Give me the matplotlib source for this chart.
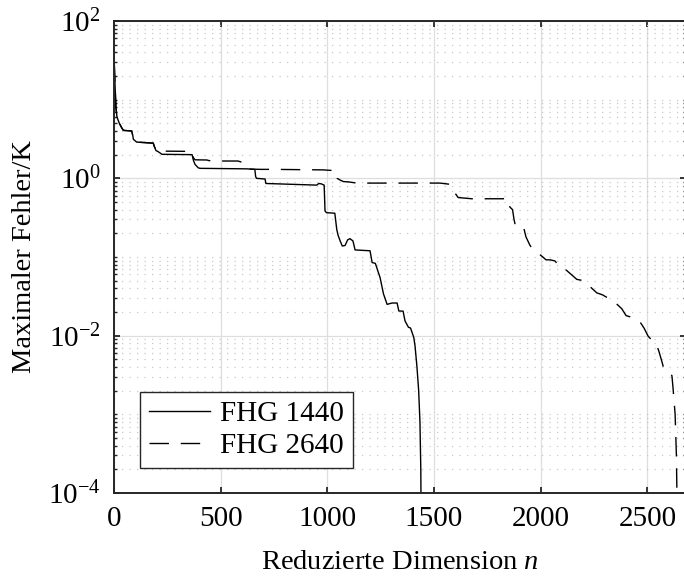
import matplotlib
matplotlib.use("Agg")
import matplotlib.pyplot as plt
from matplotlib.ticker import FixedLocator, NullFormatter, FixedFormatter

plt.rcParams['font.family'] = ['Liberation Serif', 'DejaVu Serif']
plt.rcParams['mathtext.fontset'] = 'custom'
plt.rcParams['mathtext.rm'] = 'Liberation Serif'
plt.rcParams['mathtext.it'] = 'Liberation Serif:italic'

# ---- data ----
n_1440 = [1, 5, 9, 14, 25, 36, 44, 83, 88, 91, 106, 184, 190, 197, 205, 225, 366, 372,
          380, 395, 403, 622, 660, 664, 668, 708, 712, 950, 960, 972, 985, 989, 996,
          1035, 1044, 1050, 1060, 1070, 1083, 1095, 1106, 1120, 1130, 1153, 1200, 1210,
          1225, 1237, 1247, 1263, 1270, 1280, 1303, 1327, 1335, 1355, 1364, 1380, 1390,
          1405, 1411, 1420, 1428, 1434, 1438, 1441]
err_1440 = [30, 15, 8, 6, 5, 4.4, 4.07, 4.0, 3.5, 3.13, 2.89, 2.8, 2.5, 2.25, 2.2, 2.02,
            2.0, 1.7, 1.5, 1.36, 1.34, 1.32, 1.3, 1.05, 1.0, 0.98, 0.86, 0.82, 0.86, 0.85,
            0.82, 0.385, 0.366, 0.36, 0.225, 0.19, 0.16, 0.138, 0.14, 0.165, 0.171, 0.16,
            0.123, 0.122, 0.12, 0.085, 0.083, 0.066, 0.055, 0.034, 0.03, 0.025, 0.026,
            0.026, 0.0206, 0.0205, 0.0154, 0.0128, 0.0125, 0.0095, 0.0074, 0.004, 0.002,
            0.0008, 0.0002, 1e-5]

n_2640 = [1, 5, 9, 14, 25, 36, 44, 83, 88, 91, 106, 184, 190, 197, 205, 365, 372, 380,
          436, 445, 497, 581, 600, 615, 622, 692, 747, 981, 1000, 1040, 1046, 1060, 1075,
          1100, 1138, 1528, 1575, 1590, 1613, 1677, 1763, 1825, 1840, 1856, 1868, 1875,
          1880, 1918, 1931, 1950, 1965, 2010, 2025, 2045, 2067, 2091, 2120, 2146, 2169,
          2200, 2227, 2263, 2290, 2325, 2358, 2380, 2400, 2442, 2465, 2485, 2503, 2525,
          2544, 2555, 2565, 2575, 2590, 2600, 2615, 2620, 2630, 2636, 2640]
err_2640 = [30, 15, 8, 6, 5, 4.4, 4.07, 4.0, 3.5, 3.13, 2.89, 2.8, 2.5, 2.3, 2.22, 2.2,
            1.83, 1.72, 1.71, 1.68, 1.66, 1.66, 1.6, 1.4, 1.31, 1.30, 1.30, 1.28, 1.27,
            1.25, 1.0, 0.95, 0.91, 0.90, 0.87, 0.87, 0.84, 0.70, 0.57, 0.55, 0.55, 0.55,
            0.57, 0.43, 0.40, 0.30, 0.26, 0.25, 0.18, 0.14, 0.125, 0.10, 0.092, 0.092,
            0.089, 0.074, 0.068, 0.059, 0.052, 0.05, 0.043, 0.035, 0.033, 0.029, 0.025,
            0.022, 0.018, 0.0166, 0.015, 0.0124, 0.0099, 0.0085, 0.0076, 0.0062, 0.005,
            0.0040, 0.0038, 0.0034, 0.0031, 0.0022, 0.001, 0.0003, 0.00005]

labels = ['FHG 1440', 'FHG 2640']
x_ticks = [0, 500, 1000, 1500, 2000, 2500]
y_major = [1e-4, 1e-2, 1e0, 1e2]
y_major_labels = ['$10^{-4}$', '$10^{-2}$', '$10^{0}$', '$10^{2}$']
x_limits = (0, 2681)
y_limits = (1e-4, 1e2)

# ---- figure ----
fig = plt.figure(figsize=(6.84, 5.76), dpi=100)
ax = fig.add_axes([114 / 684, 1 - 493 / 576, 572 / 684, 472 / 576])

ax.plot(n_1440, err_1440, color='black', lw=1.0, label=labels[0])
ax.plot(n_2640, err_2640, color='black', lw=1.0, dashes=(14, 8.5), label=labels[1])

ax.set_yscale('log')
ax.set_xlim(*x_limits)
ax.set_ylim(*y_limits)

ax.xaxis.set_major_locator(FixedLocator(x_ticks))
ax.yaxis.set_major_locator(FixedLocator(y_major))
ax.yaxis.set_major_formatter(FixedFormatter(y_major_labels))
minor = []
for k in range(-4, 2):
    for m in range(1, 10):
        v = m * 10.0 ** k
        if any(abs(v - t) / t < 1e-9 for t in y_major):
            continue
        minor.append(v)
ax.yaxis.set_minor_locator(FixedLocator(minor))
ax.yaxis.set_minor_formatter(NullFormatter())

ax.set_axisbelow(True)
ax.grid(True, which='major', axis='both', color='#dedede', lw=0.9, ls='-')
ax.grid(True, which='minor', axis='y', color='#c8c8c8', lw=0.9, ls=(0, (1, 5)))

ax.tick_params(which='both', direction='in', top=True, right=True, labelsize=21,
               colors='#262626', labelcolor='black')
ax.tick_params(which='major', length=4.5, width=1.3, pad=9.5)
ax.tick_params(which='minor', length=2.5, width=1.0)
for s in ax.spines.values():
    s.set_linewidth(1.4)
    s.set_color('#262626')

ax.set_xlabel('Reduzierte Dimension $n$', fontsize=20.5, labelpad=13)
ax.set_ylabel('Maximaler Fehler/K', fontsize=20.5, labelpad=8)

leg = ax.legend(loc='lower left', bbox_to_anchor=(0.0455, 0.053), fontsize=21,
                frameon=True, fancybox=False, shadow=False, framealpha=1,
                edgecolor='#262626', handlelength=2.1, handletextpad=0.35,
                borderpad=0.3, labelspacing=0.2, borderaxespad=0)
leg.get_frame().set_linewidth(1.0)

fig.savefig('out.png', dpi=100)
